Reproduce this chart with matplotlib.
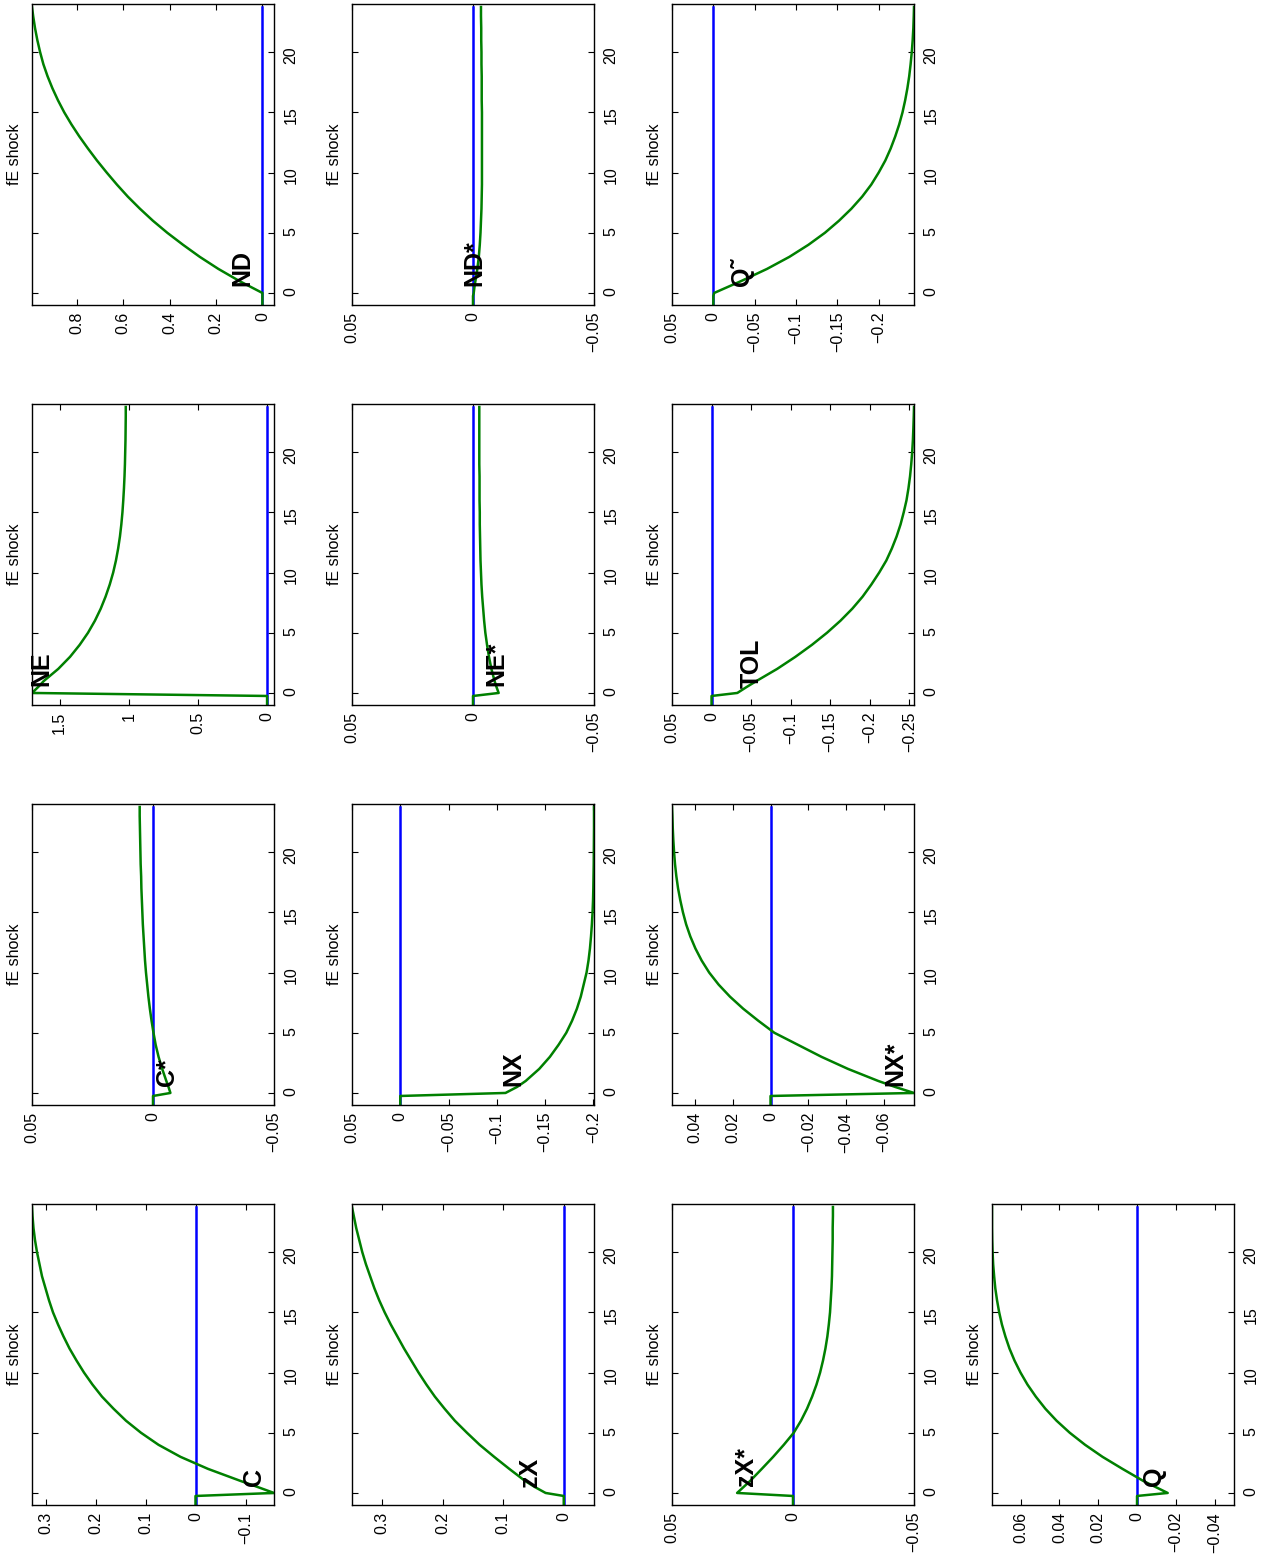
import matplotlib.pyplot as plt
from matplotlib.ticker import MultipleLocator, FuncFormatter

plt.rcParams['font.family'] = ['Liberation Sans', 'DejaVu Sans']

# time axis (years), two pre-shock points then the response
t = [-1, -0.25, 0, 0.5, 1, 2, 3, 4, 5, 6, 7, 8, 9, 10, 11, 12, 13, 14, 15, 16,
     17, 18, 19, 20, 21, 22, 23, 23.75]
baseline = [0.0] * len(t)

# responses to the fE shock
C = [0, 0, -0.157, -0.124, -0.09, -0.025, 0.030, 0.074, 0.109, 0.139, 0.164, 0.187,
     0.206, 0.223, 0.238, 0.252, 0.264, 0.275, 0.285, 0.293, 0.300, 0.307, 0.312,
     0.317, 0.321, 0.324, 0.326, 0.327]
C_star = [0, 0, -0.0072, -0.0064, -0.0055, -0.0038, -0.0023, -0.0011, -0.0002, 0.0006,
          0.0013, 0.0019, 0.0024, 0.0029, 0.0033, 0.0036, 0.0039, 0.0042, 0.0044, 0.0046,
          0.0048, 0.0049, 0.0051, 0.0052, 0.0053, 0.0054, 0.0055, 0.0055]
NE = [0, 0, 1.70, 1.655, 1.614, 1.51, 1.425, 1.355, 1.295, 1.245, 1.203, 1.168,
      1.138, 1.113, 1.093, 1.077, 1.064, 1.054, 1.046, 1.040, 1.035, 1.031, 1.028,
      1.026, 1.024, 1.023, 1.022, 1.022]
ND = [0, 0, 0.0, 0.05, 0.10, 0.19, 0.27, 0.342, 0.41, 0.472, 0.528, 0.58, 0.627,
      0.671, 0.713, 0.752, 0.789, 0.823, 0.854, 0.881, 0.905, 0.926, 0.944, 0.958,
      0.97, 0.98, 0.988, 0.993]
zX = [0, 0, 0.03, 0.048, 0.064, 0.09, 0.115, 0.139, 0.16, 0.18, 0.197, 0.213, 0.227,
      0.24, 0.252, 0.264, 0.275, 0.286, 0.296, 0.305, 0.313, 0.32, 0.327, 0.333,
      0.338, 0.343, 0.347, 0.35]
NX = [0, 0, -0.109, -0.121, -0.130, -0.144, -0.155, -0.164, -0.172, -0.178, -0.183,
      -0.187, -0.190, -0.193, -0.195, -0.1965, -0.1976, -0.1985, -0.1992, -0.1997,
      -0.2, -0.2002, -0.2004, -0.2005, -0.2006, -0.2007, -0.2007, -0.2007]
NE_star = [0, 0, -0.0106, -0.0097, -0.0089, -0.0076, -0.0066, -0.0058, -0.0051, -0.0046,
           -0.0042, -0.0038, -0.0035, -0.0033, -0.0031, -0.003, -0.0029, -0.0028, -0.0028,
           -0.0027, -0.0027, -0.0027, -0.0026, -0.0026, -0.0026, -0.0026, -0.0026, -0.0026]
ND_star = [0, 0, -0.0003, -0.0006, -0.001, -0.0018, -0.0024, -0.0028, -0.0031, -0.0033,
           -0.0035, -0.0036, -0.0037, -0.0037, -0.0037, -0.0037, -0.0037, -0.0037, -0.0037,
           -0.0036, -0.0036, -0.0036, -0.0035, -0.0035, -0.0034, -0.0034, -0.0033, -0.0033]
zX_star = [0, 0, 0.0231, 0.0204, 0.0177, 0.0129, 0.0082, 0.0038, -0.0003, -0.0033,
           -0.0058, -0.0079, -0.0097, -0.0112, -0.0124, -0.0134, -0.0142, -0.0148, -0.0153,
           -0.0156, -0.0159, -0.0161, -0.0162, -0.0163, -0.0164, -0.0164, -0.0165, -0.0165]
NX_star = [0, 0, -0.076, -0.066, -0.057, -0.041, -0.027, -0.0145, -0.002, 0.0065, 0.0145,
           0.0215, 0.0275, 0.0325, 0.0365, 0.0398, 0.0425, 0.0447, 0.0464, 0.0478, 0.049,
           0.0499, 0.0506, 0.0511, 0.0515, 0.0518, 0.052, 0.0522]
TOL = [0, 0, -0.0326, -0.0445, -0.057, -0.083, -0.106, -0.127, -0.146, -0.163, -0.178,
       -0.191, -0.202, -0.212, -0.221, -0.228, -0.234, -0.239, -0.243, -0.2465, -0.249,
       -0.251, -0.2525, -0.2537, -0.2546, -0.2552, -0.2557, -0.256]
Q_tilde = [0, 0, -0.001, -0.0175, -0.034, -0.065, -0.092, -0.115, -0.135, -0.152, -0.167,
           -0.18, -0.191, -0.2, -0.208, -0.2145, -0.22, -0.2248, -0.2288, -0.232, -0.2347,
           -0.2369, -0.2386, -0.24, -0.2411, -0.2419, -0.2424, -0.2427]
Q = [0, 0, -0.0158, -0.0095, -0.0032, 0.0075, 0.0178, 0.0268, 0.0347, 0.0415, 0.0473,
     0.0522, 0.0565, 0.0601, 0.0632, 0.0658, 0.0679, 0.0697, 0.0711, 0.0722, 0.0731,
     0.0737, 0.0742, 0.0745, 0.0747, 0.0748, 0.0748, 0.0748]

names = ['C', 'C*', 'NE', 'ND', 'zX', 'NX', 'NE*', 'ND*', 'zX*', 'NX*', 'TOL', 'Q\u02dc', 'Q']
series = [C, C_star, NE, ND, zX, NX, NE_star, ND_star, zX_star, NX_star, TOL, Q_tilde, Q]
tick_steps = [0.1, 0.05, 0.5, 0.2, 0.1, 0.05, 0.05, 0.05, 0.05, 0.02, 0.05, 0.05, 0.02]
# where each variable name is written (value, time where the text starts)
label_at = [(-0.117, 0.58), (-0.0058, 0.6), (1.63, 0.58), (0.087, 0.58), (0.055, 0.5),
            (-0.117, 0.6), (-0.0096, 0.6), (-0.0005, 0.58), (0.0193, 0.6), (-0.066, 0.6),
            (-0.051, 0.4), (-0.0347, 0.55), (-0.0087, 0.6)]


def fmt(v, pos):
    s = '%g' % round(v, 6)
    if s == '-0':
        s = '0'
    return s.replace('-', '\u2212')


# the page is turned a quarter turn: time runs upward, values decrease to the right
W, H = 1265, 1557
fig = plt.figure(figsize=(W / 100, H / 100), dpi=100)

for k in range(len(names)):
    y = series[k]
    left = 32 + 320 * (k // 4)
    bottom = 1505 - 400 * (k % 4)
    ax = fig.add_axes([left / W, (H - bottom) / H, 242 / W, 301 / H])

    ax.plot(baseline, t, color=(0, 0, 1), lw=1.8)
    ax.plot(y, t, color=(0, 0.5, 0), lw=1.8)

    lo = min(-0.05, min(y))
    hi = max(0.05, max(y))
    ax.set_xlim(hi, lo)
    ax.set_ylim(-1, 24)

    ax.xaxis.set_major_locator(MultipleLocator(tick_steps[k]))
    ax.xaxis.set_major_formatter(FuncFormatter(fmt))
    ax.yaxis.set_major_locator(MultipleLocator(5))
    ax.yaxis.set_major_formatter(FuncFormatter(fmt))
    ax.tick_params(direction='in', length=4, width=0.8, top=True, bottom=True,
                   left=True, right=True, labelleft=False, labelright=True,
                   labelsize=11.5, labelrotation=90)
    ax.tick_params(axis='x', pad=5)
    ax.tick_params(axis='y', pad=7)
    for sp in ax.spines.values():
        sp.set_linewidth(1.0)

    ax.text(-0.04, 0.5, 'fE shock', transform=ax.transAxes, rotation=90,
            ha='right', va='center', fontsize=11.5)
    lv, lt = label_at[k]
    ax.text(lv, lt, names[k], rotation=90, ha='center', va='bottom',
            fontsize=18, fontweight='bold')

fig.savefig('out.png', dpi=100)
